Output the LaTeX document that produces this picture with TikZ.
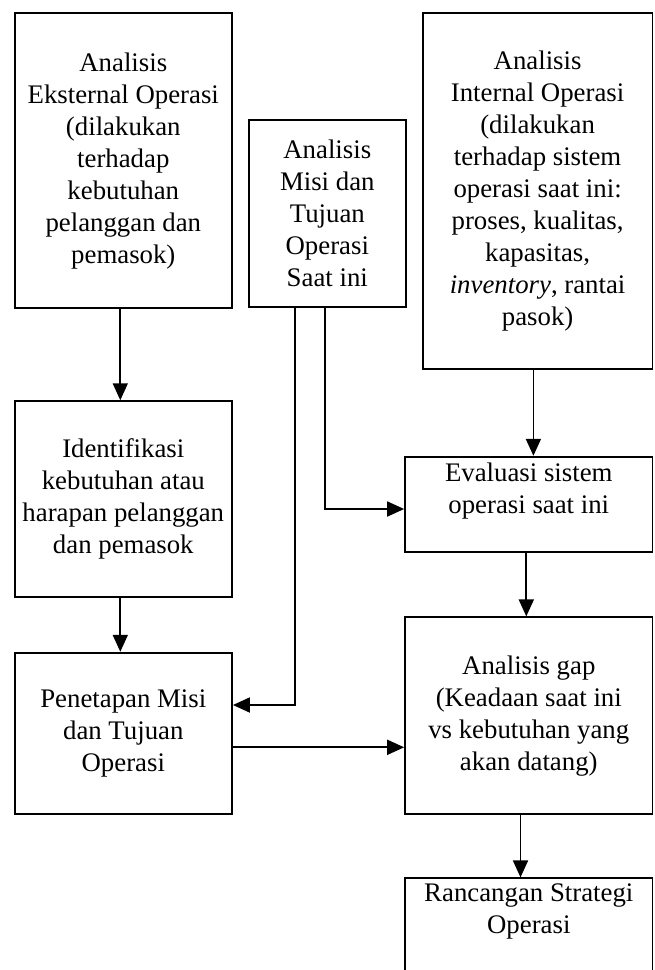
\documentclass[tikz,border=0pt]{standalone}
\usepackage{fontspec}
\setmainfont{Liberation Serif}
\usetikzlibrary{arrows.meta,calc}
\begin{document}
\begin{tikzpicture}[x=1pt,y=-1pt,
  box/.style={draw=black, line width=1.8pt, inner sep=0pt, align=center,
    font=\fontsize{26.8}{32}\selectfont},
  txt/.style={inner sep=0pt, align=center, font=\fontsize{26.8}{32}\selectfont},
  arr/.style={line width=1.8pt, -{Triangle[length=17pt,width=15pt]}}]
\fill[white] (0,0) rectangle (655,970);
\useasboundingbox (0,0) rectangle (655,970);
\clip (0,0) rectangle (655,970);
% boxes
\node[box, minimum width=217.4pt, minimum height=295pt] (A) at (123.3,160.7)
  {Analisis\\Eksternal Operasi\\(dilakukan\\terhadap\\kebutuhan\\pelanggan dan\\pemasok)};
\node[box, minimum width=156.6pt, minimum height=187pt] (M) at (327.3,213.5)
  {Analisis\\Misi dan\\Tujuan\\Operasi\\Saat ini};
\node[box, minimum width=229.8pt, minimum height=356pt] (I) at (537.6,191.3)
  {Analisis\\Internal Operasi\\(dilakukan\\terhadap sistem\\operasi saat ini:\\proses, kualitas,\\kapasitas,\\\textit{inventory}, rantai\\pasok)};
\node[box, minimum width=217.4pt, minimum height=195.7pt] (Id) at (123.3,499)
  {Identifikasi\\kebutuhan atau\\harapan pelanggan\\dan pemasok};
\node[box, minimum width=217.4pt, minimum height=161.6pt] (P) at (123.3,733.5)
  {Penetapan Misi\\dan Tujuan\\Operasi};
\node[box, minimum width=247.5pt, minimum height=95.6pt] (E) at (528.8,504.5) {};
\node[txt, anchor=north] (Et) at ([yshift=-6.5pt]E.north) {Evaluasi sistem\\operasi saat ini};
\node[box, minimum width=247.5pt, minimum height=197pt] (G) at (528.8,715.8)
  {Analisis gap\\(Keadaan saat ini\\vs kebutuhan yang\\akan datang)};
\node[box, minimum width=247.5pt, minimum height=140pt] (R) at (528.8,948.3) {};
\node[txt, anchor=north] (Rt) at ([yshift=-6pt]R.north) {Rancangan Strategi\\Operasi};
% connectors
\draw[arr] ([xshift=-3pt]A.south) -- ([xshift=-3pt]Id.north);
\draw[arr] ([xshift=-3pt]Id.south) -- ([xshift=-3pt]P.north);
\draw[arr] ([xshift=-32.3pt]M.south) |- ([yshift=28.5pt]P.east);
\draw[arr] ([xshift=-2.3pt]M.south) |- ([yshift=-4.5pt]E.west);
\draw[arr] ([xshift=-4.2pt]I.south) -- ([xshift=-4.2pt]I.south |- E.north);
\draw[arr] ([xshift=-2.5pt]E.south) -- ([xshift=-2.5pt]G.north);
\draw[arr] ([yshift=-13.8pt]P.east) -- ([yshift=-13.8pt]P.east -| G.west);
\draw[arr] ([xshift=-8.3pt]G.south) -- ([xshift=-8.3pt]R.north);
\end{tikzpicture}
\end{document}
